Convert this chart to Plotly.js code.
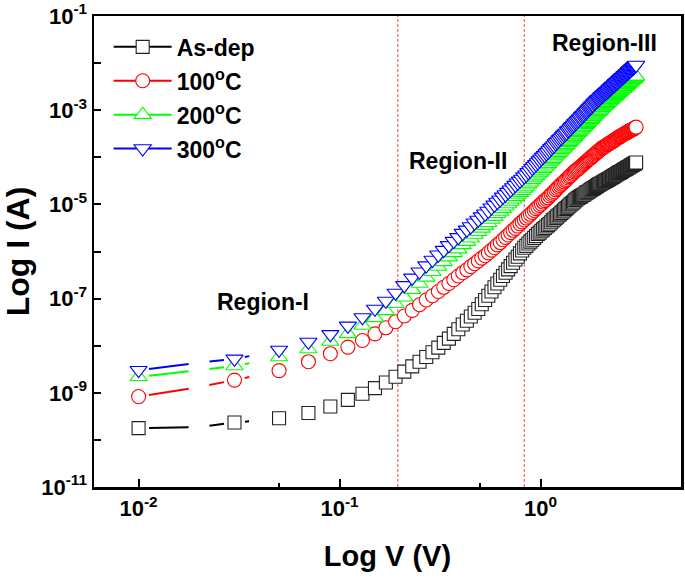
<!DOCTYPE html>
<html><head><meta charset="utf-8">
<script src="https://cdn.plot.ly/plotly-3.0.1.min.js"></script>
<style>html,body{margin:0;padding:0;background:#fff;}#chart{width:685px;height:583px;}</style>
</head><body><div id="chart"></div>
<script>
// Applied voltage (V) at each plotted symbol
const V = [
0.01,0.03,0.05,0.07,0.09,0.11,0.13,0.15,0.17,0.19,
0.21,0.23,0.25,0.27,0.29,0.31,0.33,0.35,0.37,0.39,
0.41,0.43,0.45,0.47,0.49,0.51,0.53,0.55,0.57,0.59,
0.61,0.63,0.65,0.67,0.69,0.71,0.73,0.75,0.77,0.79,
0.81,0.83,0.85,0.87,0.89,0.91,0.93,0.95,0.97,0.99,
1.01,1.03,1.05,1.07,1.09,1.11,1.13,1.15,1.17,1.19,
1.21,1.23,1.25,1.27,1.29,1.31,1.33,1.35,1.37,1.39,
1.41,1.43,1.45,1.47,1.49,1.51,1.53,1.55,1.57,1.59,
1.61,1.63,1.65,1.67,1.69,1.71,1.73,1.75,1.77,1.79,
1.81,1.83,1.85,1.87,1.89,1.91,1.93,1.95,1.97,1.99,
2.01,2.03,2.05,2.07,2.09,2.11,2.13,2.15,2.17,2.19,
2.21,2.23,2.25,2.27,2.29,2.31,2.33,2.35,2.37,2.39,
2.41,2.43,2.45,2.47,2.49,2.51,2.53,2.55,2.57,2.59,
2.61,2.63,2.65,2.67,2.69,2.71,2.73,2.75,2.77,2.79,
2.81,2.83,2.85,2.87,2.89,2.91,2.93,2.95,2.97,2.99];

// log10 of current (A)
const logI_asdep = [
-9.75,-9.63,-9.54,-9.43,-9.29,-9.15,-9.02,-8.90,-8.78,-8.66,
-8.55,-8.44,-8.34,-8.24,-8.14,-8.04,-7.94,-7.85,-7.75,-7.65,
-7.55,-7.47,-7.38,-7.30,-7.22,-7.12,-7.03,-6.94,-6.85,-6.76,
-6.68,-6.60,-6.52,-6.45,-6.38,-6.31,-6.24,-6.17,-6.11,-6.04,
-5.98,-5.92,-5.88,-5.83,-5.79,-5.75,-5.71,-5.67,-5.63,-5.60,
-5.56,-5.53,-5.50,-5.47,-5.44,-5.41,-5.38,-5.34,-5.32,-5.29,
-5.26,-5.23,-5.21,-5.18,-5.15,-5.13,-5.10,-5.08,-5.05,-5.03,
-5.00,-4.98,-4.96,-4.94,-4.91,-4.89,-4.87,-4.86,-4.84,-4.83,
-4.81,-4.80,-4.79,-4.77,-4.75,-4.74,-4.73,-4.71,-4.70,-4.68,
-4.67,-4.66,-4.65,-4.63,-4.62,-4.61,-4.59,-4.58,-4.57,-4.56,
-4.55,-4.54,-4.53,-4.52,-4.51,-4.50,-4.49,-4.48,-4.47,-4.46,
-4.45,-4.44,-4.43,-4.42,-4.41,-4.40,-4.39,-4.38,-4.37,-4.36,
-4.35,-4.34,-4.33,-4.32,-4.32,-4.31,-4.30,-4.29,-4.28,-4.27,
-4.26,-4.25,-4.25,-4.24,-4.23,-4.22,-4.21,-4.21,-4.20,-4.19,
-4.18,-4.17,-4.17,-4.16,-4.15,-4.14,-4.14,-4.13,-4.12,-4.11];

const logI_100C = [
-9.08,-8.73,-8.53,-8.34,-8.17,-8.03,-7.89,-7.75,-7.62,-7.49,
-7.37,-7.25,-7.13,-7.03,-6.94,-6.85,-6.76,-6.68,-6.60,-6.52,
-6.45,-6.39,-6.32,-6.26,-6.20,-6.14,-6.09,-6.03,-5.97,-5.92,
-5.86,-5.81,-5.75,-5.70,-5.65,-5.60,-5.55,-5.51,-5.46,-5.41,
-5.37,-5.33,-5.29,-5.25,-5.21,-5.17,-5.13,-5.09,-5.06,-5.02,
-4.99,-4.95,-4.92,-4.89,-4.86,-4.82,-4.79,-4.76,-4.73,-4.69,
-4.66,-4.63,-4.60,-4.57,-4.55,-4.52,-4.49,-4.47,-4.44,-4.41,
-4.39,-4.36,-4.34,-4.31,-4.29,-4.27,-4.25,-4.23,-4.21,-4.19,
-4.17,-4.15,-4.13,-4.11,-4.09,-4.07,-4.05,-4.03,-4.02,-4.00,
-3.98,-3.96,-3.95,-3.93,-3.91,-3.89,-3.88,-3.86,-3.85,-3.83,
-3.81,-3.80,-3.79,-3.78,-3.77,-3.76,-3.74,-3.73,-3.72,-3.71,
-3.70,-3.69,-3.68,-3.67,-3.66,-3.64,-3.64,-3.63,-3.61,-3.61,
-3.59,-3.58,-3.58,-3.56,-3.56,-3.55,-3.54,-3.53,-3.52,-3.51,
-3.50,-3.50,-3.49,-3.48,-3.47,-3.47,-3.46,-3.45,-3.44,-3.43,
-3.43,-3.42,-3.41,-3.41,-3.40,-3.39,-3.38,-3.38,-3.37,-3.36];

const logI_200C = [
-8.66,-8.43,-8.24,-8.07,-7.91,-7.75,-7.57,-7.41,-7.26,-7.11,
-6.97,-6.81,-6.68,-6.55,-6.43,-6.32,-6.22,-6.12,-6.03,-5.95,
-5.86,-5.79,-5.72,-5.64,-5.58,-5.51,-5.45,-5.39,-5.32,-5.26,
-5.20,-5.15,-5.09,-5.04,-4.99,-4.94,-4.89,-4.84,-4.79,-4.75,
-4.71,-4.66,-4.62,-4.57,-4.53,-4.48,-4.44,-4.40,-4.36,-4.32,
-4.28,-4.24,-4.21,-4.17,-4.14,-4.10,-4.06,-4.03,-4.00,-3.96,
-3.93,-3.90,-3.87,-3.84,-3.81,-3.78,-3.75,-3.73,-3.69,-3.67,
-3.64,-3.61,-3.59,-3.56,-3.53,-3.51,-3.48,-3.46,-3.43,-3.41,
-3.38,-3.36,-3.34,-3.31,-3.29,-3.27,-3.24,-3.22,-3.20,-3.18,
-3.15,-3.14,-3.11,-3.09,-3.07,-3.05,-3.03,-3.02,-3.00,-2.98,
-2.95,-2.94,-2.92,-2.90,-2.89,-2.87,-2.86,-2.84,-2.83,-2.81,
-2.79,-2.78,-2.76,-2.75,-2.73,-2.72,-2.71,-2.69,-2.67,-2.66,
-2.65,-2.63,-2.62,-2.60,-2.59,-2.58,-2.56,-2.55,-2.54,-2.53,
-2.51,-2.50,-2.49,-2.47,-2.46,-2.45,-2.44,-2.42,-2.41,-2.40,
-2.39,-2.37,-2.36,-2.35,-2.34,-2.33,-2.32,-2.30,-2.29,-2.28];

const logI_300C = [
-8.52,-8.28,-8.09,-7.92,-7.76,-7.58,-7.40,-7.22,-7.05,-6.88,
-6.72,-6.56,-6.43,-6.30,-6.18,-6.07,-5.97,-5.87,-5.78,-5.70,
-5.61,-5.54,-5.47,-5.39,-5.33,-5.26,-5.20,-5.14,-5.07,-5.01,
-4.95,-4.90,-4.84,-4.79,-4.74,-4.69,-4.64,-4.59,-4.54,-4.50,
-4.46,-4.41,-4.37,-4.32,-4.28,-4.23,-4.19,-4.15,-4.11,-4.07,
-4.03,-3.99,-3.96,-3.92,-3.89,-3.85,-3.81,-3.78,-3.75,-3.71,
-3.68,-3.65,-3.62,-3.59,-3.56,-3.53,-3.50,-3.48,-3.44,-3.42,
-3.39,-3.36,-3.34,-3.31,-3.28,-3.26,-3.23,-3.21,-3.18,-3.16,
-3.13,-3.11,-3.09,-3.06,-3.04,-3.02,-2.99,-2.97,-2.95,-2.93,
-2.90,-2.89,-2.86,-2.84,-2.82,-2.80,-2.78,-2.77,-2.75,-2.73,
-2.71,-2.70,-2.68,-2.66,-2.65,-2.63,-2.62,-2.60,-2.59,-2.57,
-2.55,-2.54,-2.52,-2.51,-2.49,-2.48,-2.47,-2.45,-2.43,-2.42,
-2.41,-2.39,-2.38,-2.36,-2.35,-2.34,-2.32,-2.31,-2.30,-2.29,
-2.27,-2.26,-2.25,-2.23,-2.22,-2.21,-2.20,-2.18,-2.17,-2.16,
-2.15,-2.13,-2.12,-2.11,-2.10,-2.09,-2.08,-2.06,-2.05,-2.04];

// low-voltage points joined by the connecting line (every 0.01 V)
const lineV = [0.01,0.02,0.03,0.04,0.05];
const lineLogI_asdep = [-9.75,-9.73,-9.63,-9.59,-9.54];
const lineLogI_100C  = [-9.08,-8.88,-8.73,-8.62,-8.53];
const lineLogI_200C  = [-8.66,-8.52,-8.43,-8.33,-8.24];
const lineLogI_300C  = [-8.52,-8.36,-8.28,-8.18,-8.09];

const seriesNames = ['As-dep','100<sup>o</sup>C','200<sup>o</sup>C','300<sup>o</sup>C'];
const regionBoundsV = [0.195, 0.83];
const regionLabels = ['Region-I','Region-II','Region-III'];
const xTickVals = [0.01, 0.1, 1];
const xTickText = ['10<sup>-2</sup>','10<sup>-1</sup>','10<sup>0</sup>'];
const xMinorVals = [0.05, 0.5];
const yLabelExp = [-11,-9,-7,-5,-3,-1];
const yMinorExp = [-10,-8,-6,-4,-2];

// ---------- styling / layout ----------
const W = 685, H = 583;
const M = {l:94, r:4, t:16, b:96};
const XR = [Math.log10(0.006), Math.log10(5)];
const YR = [-11, -1];
const kx = (W - M.l - M.r) / (XR[1] - XR[0]);
const ky = (H - M.t - M.b) / (YR[1] - YR[0]);
const FONT = 'Liberation Sans, Arial, sans-serif';
const colors = ['#000000', '#ff0000', '#00ff00', '#0000ff'];
const symbols = ['square', 'circle', 'triangle-up', 'triangle-down'];
const msize = [13, 14, 15, 15];
const GAP = 10.5;

const pow10 = a => a.map(v => Math.pow(10, v));

// connecting line with a gap around every data point (drawn through the axes' log scale)
function gappedLine(xs, ly) {
  const ox = [], oy = [];
  for (let i = 0; i < xs.length - 1; i++) {
    const lx0 = Math.log10(xs[i]), lx1 = Math.log10(xs[i+1]);
    const y0 = ly[i], y1 = ly[i+1];
    const L = Math.hypot((lx1-lx0)*kx, (y1-y0)*ky);
    if (L <= 2*GAP) continue;
    const t = GAP / L;
    ox.push(Math.pow(10, lx0 + t*(lx1-lx0)), Math.pow(10, lx0 + (1-t)*(lx1-lx0)), null);
    oy.push(Math.pow(10, y0 + t*(y1-y0)), Math.pow(10, y0 + (1-t)*(y1-y0)), null);
  }
  return {x: ox, y: oy};
}

const markerSets = [logI_asdep, logI_100C, logI_200C, logI_300C];
const lineSets = [lineLogI_asdep, lineLogI_100C, lineLogI_200C, lineLogI_300C];
const mline = i => ({color: i === 0 ? '#222' : colors[i], width: 1.1});

const traces = [];
regionBoundsV.forEach(b => traces.push({
  x: [b, b], y: [Math.pow(10, YR[0]), Math.pow(10, YR[1])], mode: 'lines',
  line: {color: 'rgba(230,50,50,0.9)', width: 1, dash: '3px,2px'},
  showlegend: false, hoverinfo: 'skip'
}));
lineSets.forEach((ly, i) => {
  const g = gappedLine(lineV, ly);
  traces.push({x: g.x, y: g.y, mode: 'lines', line: {color: colors[i], width: 2},
    showlegend: false, hoverinfo: 'skip', connectgaps: false});
});
markerSets.forEach((ly, i) => {
  traces.push({x: V, y: pow10(ly), mode: 'markers', showlegend: false,
    marker: {symbol: symbols[i], size: msize[i], color: 'white', line: mline(i)}});
});
seriesNames.forEach((n, i) => {
  traces.push({x: [null], y: [null], mode: 'lines+markers', name: n, legendgroup: 'g'+i,
    line: {color: colors[i], width: 2},
    marker: {symbol: symbols[i], size: msize[i], color: 'white', line: mline(i)}});
});

const tickFont = {family: FONT, size: 22, color: '#000', weight: 'bold'};
const annFont = {family: FONT, size: 23, color: '#000', weight: 'bold'};
const layout = {
  width: W, height: H, margin: M,
  paper_bgcolor: '#fff', plot_bgcolor: '#fff',
  showlegend: true,
  legend: {x: 0.025, y: 0.98, xanchor: 'left', yanchor: 'top', bgcolor: 'rgba(0,0,0,0)',
    font: {family: FONT, size: 23, color: '#000', weight: 'bold'},
    traceorder: 'grouped', tracegroupgap: 1, itemwidth: 58},
  xaxis: {type: 'log', range: XR, showline: true, mirror: true, linewidth: 2.5, linecolor: '#000',
    showgrid: false, zeroline: false, ticks: 'inside', ticklen: 8, tickwidth: 2, tickcolor: '#000',
    tickmode: 'array', tickvals: xTickVals, ticktext: xTickText, tickfont: tickFont,
    minor: {tickmode: 'array', tickvals: xMinorVals, ticks: 'inside', ticklen: 4, tickwidth: 2, tickcolor: '#000', showgrid: false},
    title: {text: 'Log V (V)', font: {family: FONT, size: 29, color: '#000', weight: 'bold'}, standoff: 26}},
  yaxis: {type: 'log', range: YR, showline: true, mirror: true, linewidth: 2.5, linecolor: '#000',
    showgrid: false, zeroline: false, ticks: 'inside', ticklen: 7, tickwidth: 2, tickcolor: '#000',
    tickmode: 'array', tickvals: pow10(yLabelExp),
    ticktext: yLabelExp.map(e => '10<sup>' + e + '</sup>'),
    tickfont: tickFont,
    minor: {tickmode: 'array', tickvals: pow10(yMinorExp), ticks: 'inside', ticklen: 7, tickwidth: 2, tickcolor: '#000', showgrid: false},
    title: {text: 'Log I (A)', font: {family: FONT, size: 32, color: '#000', weight: 'bold'}, standoff: 2}},
  annotations: [
    {x: 0.288, y: 0.393, text: regionLabels[0]},
    {x: 0.620, y: 0.692, text: regionLabels[1]},
    {x: 0.869, y: 0.943, text: regionLabels[2]}
  ].map(a => Object.assign(a, {xref: 'paper', yref: 'paper', xanchor: 'center', yanchor: 'middle',
    showarrow: false, font: annFont}))
};

Plotly.newPlot('chart', traces, layout, {displayModeBar: false, staticPlot: true});
</script>
</body></html>
